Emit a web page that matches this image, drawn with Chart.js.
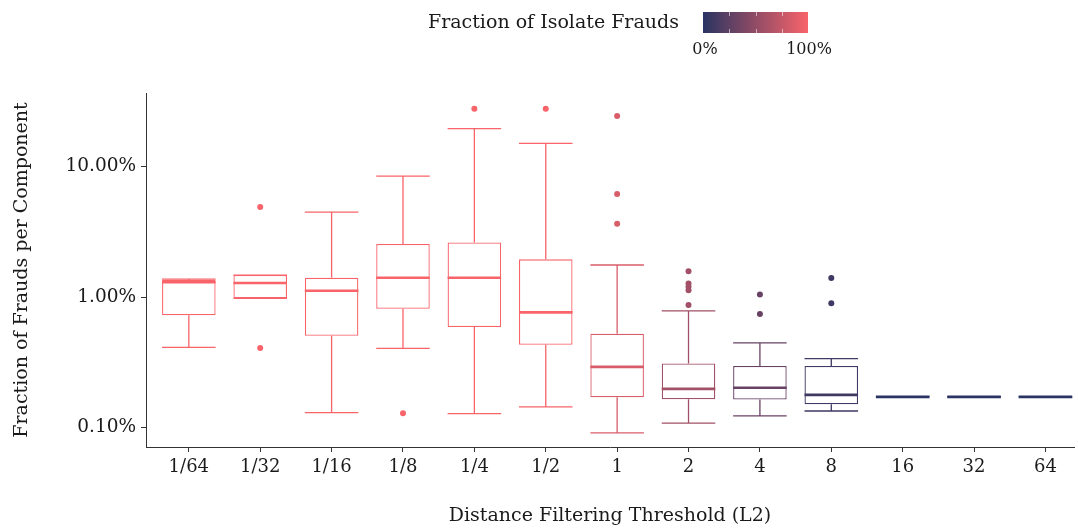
<!DOCTYPE html>
<html>
<head>
<meta charset="utf-8">
<script src="https://cdn.jsdelivr.net/npm/chart.js@4.4.0/dist/chart.umd.min.js"></script>
<style>
  body { margin: 0; background: #fff; }
  #wrap { width: 1078px; height: 529px; }
</style>
</head>
<body>
<div id="wrap"><canvas id="boxchart"></canvas></div>
<script>
const labels = ['1/64', '1/32', '1/16', '1/8', '1/4', '1/2', '1', '2', '4', '8', '16', '32', '64']
// share of isolate frauds per threshold (drives the colour)
const isolateShare = [1, 1, 1, 1, 1, 1, 0.85, 0.58, 0.3, 0.1, 0, 0, 0]
// fraction of frauds per component, in percent
const whiskerLow  = [0.412, 0.977, 0.130, 0.404, 0.128, 0.144, 0.0912, 0.108, 0.123, 0.134, 0.172, 0.172, 0.172]
const q1          = [0.724, 0.977, 0.505, 0.814, 0.589, 0.431, 0.171, 0.165, 0.164, 0.151, 0.172, 0.172, 0.172]
const median      = [1.30, 1.28, 1.117, 1.406, 1.406, 0.763, 0.292, 0.198, 0.202, 0.178, 0.172, 0.172, 0.172]
const q3          = [1.35, 1.474, 1.406, 2.55, 2.62, 1.945, 0.524, 0.310, 0.297, 0.297, 0.172, 0.172, 0.172]
const whiskerHigh = [1.37, 1.474, 4.48, 8.46, 19.5, 15.06, 1.76, 0.785, 0.446, 0.338, 0.172, 0.172, 0.172]
const outliers = [[], [0.407, 4.9], [], [0.129], [27.7], [27.7], [24.4, 6.16, 3.65],
                  [1.574, 1.273, 1.20, 1.13, 0.868], [1.045, 0.741], [1.40, 0.896], [], [], []]
const yTicks = [0.1, 1, 10]

const lowCol = [42, 52, 98]
const highCol = [248, 100, 106]
function shade(t){
    let c = lowCol.map((v, k) => Math.round(v + (highCol[k] - v) * t))
    return 'rgb(' + c.join(',') + ')'
}
const colors = isolateShare.map(shade)

const font = "'DejaVu Serif', serif"
const ink = '#1a1a1a'
const boxWidth = 0.75

let outlierPoints = []
let outlierColors = []
outliers.forEach(function(list, i){
    list.forEach(function(v){
        outlierPoints.push({x: i, y: v})
        outlierColors.push(colors[i])
    })
})

const boxParts = {
    id: 'boxParts',
    afterDatasetsDraw(chart){
        const ctx = chart.ctx
        const xs = chart.scales.x
        const ys = chart.scales.y
        ctx.save()
        labels.forEach(function(l, i){
            const cx = xs.getPixelForValue(i)
            const half = (xs.getPixelForValue(i + boxWidth / 2) - xs.getPixelForValue(i - boxWidth / 2)) / 2
            ctx.strokeStyle = colors[i]
            ctx.lineWidth = 1.3
            ctx.beginPath()
            // whiskers
            ctx.moveTo(cx, ys.getPixelForValue(q3[i]))
            ctx.lineTo(cx, ys.getPixelForValue(whiskerHigh[i]))
            ctx.moveTo(cx, ys.getPixelForValue(q1[i]))
            ctx.lineTo(cx, ys.getPixelForValue(whiskerLow[i]))
            // caps
            ctx.moveTo(cx - half, ys.getPixelForValue(whiskerHigh[i]))
            ctx.lineTo(cx + half, ys.getPixelForValue(whiskerHigh[i]))
            ctx.moveTo(cx - half, ys.getPixelForValue(whiskerLow[i]))
            ctx.lineTo(cx + half, ys.getPixelForValue(whiskerLow[i]))
            ctx.stroke()
            // median
            ctx.lineWidth = 2.6
            ctx.beginPath()
            ctx.moveTo(cx - half, ys.getPixelForValue(median[i]))
            ctx.lineTo(cx + half, ys.getPixelForValue(median[i]))
            ctx.stroke()
        })
        ctx.restore()
    }
}

const colourLegend = {
    id: 'colourLegend',
    afterDraw(chart){
        const ctx = chart.ctx
        ctx.save()
        ctx.fillStyle = ink
        ctx.font = "19px " + font
        ctx.textBaseline = 'middle'
        ctx.textAlign = 'left'
        ctx.fillText('Fraction of Isolate Frauds', 428, 23)
        const x0 = 703, x1 = 808, y0 = 12, y1 = 33
        const grad = ctx.createLinearGradient(x0, 0, x1, 0)
        grad.addColorStop(0, shade(0))
        grad.addColorStop(1, shade(1))
        ctx.fillStyle = grad
        ctx.fillRect(x0, y0, x1 - x0, y1 - y0)
        ctx.strokeStyle = 'rgba(255,255,255,0.55)'
        ctx.lineWidth = 1
        ctx.beginPath()
        for (let k = 1; k < 4; k++){
            const px = Math.round(x0 + (x1 - x0) * k / 4) + 0.5
            ctx.moveTo(px, y0); ctx.lineTo(px, y0 + 4)
            ctx.moveTo(px, y1 - 4); ctx.lineTo(px, y1)
        }
        ctx.stroke()
        ctx.fillStyle = ink
        ctx.font = "16px " + font
        ctx.textAlign = 'center'
        ctx.fillText('0%', x0 + 2, 50)
        ctx.fillText('100%', x1 + 1, 50)
        ctx.restore()
    }
}

new Chart(document.getElementById('boxchart'), {
    type: 'bar',
    data: {
        datasets: [{
            type: 'bar',
            data: labels.map((l, i) => ({x: i, y: [q1[i], q3[i]]})),
            backgroundColor: '#ffffff',
            borderColor: colors,
            borderWidth: 1.3,
            borderSkipped: false,
            barPercentage: boxWidth,
            categoryPercentage: 1
        }, {
            type: 'scatter',
            data: outlierPoints,
            pointBackgroundColor: outlierColors,
            pointBorderWidth: 0,
            pointRadius: 3
        }]
    },
    options: {
        responsive: true,
        maintainAspectRatio: false,
        animation: false,
        layout: { padding: { top: 93, left: 0, right: 0, bottom: 0 } },
        plugins: { legend: { display: false }, tooltip: { enabled: false } },
        scales: {
            x: {
                type: 'linear',
                min: -0.6,
                max: 12.4,
                offset: false,
                afterBuildTicks: s => { s.ticks = labels.map((l, i) => ({value: i})) },
                afterFit: s => { s.height = 82 },
                grid: { offset: false, drawOnChartArea: false, drawTicks: true, tickLength: 5, color: '#333' },
                border: { display: true, color: '#333', width: 1 },
                ticks: {
                    callback: v => labels[v],
                    autoSkip: false, maxRotation: 0,
                    color: ink, padding: 5,
                    font: { family: font, size: 18 }
                },
                title: {
                    display: true, text: 'Distance Filtering Threshold (L2)',
                    color: ink, padding: { top: 0, bottom: 2 },
                    font: { family: font, size: 19 }
                }
            },
            y: {
                type: 'logarithmic',
                min: 0.071,
                max: 36.6,
                afterBuildTicks: s => { s.ticks = yTicks.map(v => ({value: v})) },
                afterFit: s => { s.width = 146 },
                grid: { drawOnChartArea: false, drawTicks: true, tickLength: 5, color: '#333' },
                border: { display: true, color: '#333', width: 1 },
                ticks: {
                    callback: v => v.toFixed(2) + '%',
                    color: ink, padding: 5,
                    font: { family: font, size: 18.5 }
                },
                title: {
                    display: true, text: 'Fraction of Frauds per Component',
                    color: ink, padding: { top: 11, bottom: 0 },
                    font: { family: font, size: 19 }
                }
            }
        }
    },
    plugins: [boxParts, colourLegend]
})
</script>
</body>
</html>
